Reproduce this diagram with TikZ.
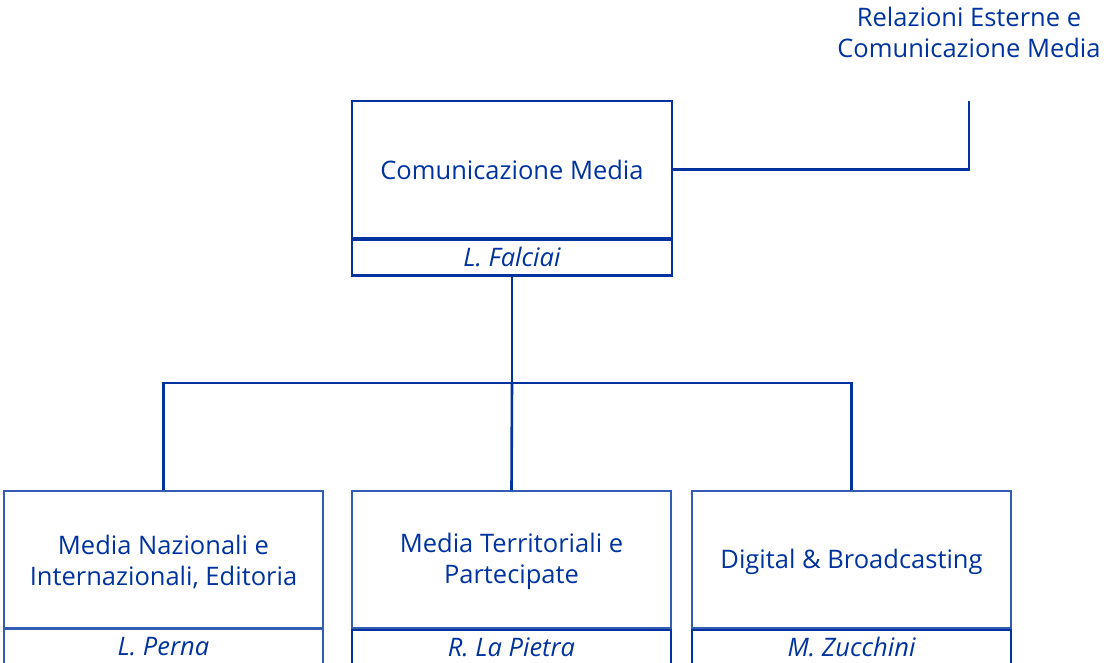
\documentclass[tikz,border=0pt]{standalone}
\usepackage{fontspec}
\setmainfont{Open Sans}
\definecolor{cblue}{RGB}{0,51,160}
\begin{document}
\begin{tikzpicture}[x=1pt,y=-1pt,
  thickln/.style={draw=cblue,line width=2.6pt},
  thinln/.style={draw=cblue!80,line width=1.1pt},
  lbl/.style={text=cblue,font=\fontsize{25.5}{31}\selectfont,align=center},
  nm/.style={text=cblue,font=\fontsize{25.5}{30}\selectfont\itshape},
  conn/.style={draw=cblue,line width=2.6pt}]
\useasboundingbox (0,0) rectangle (1104,663);
\clip (0,0) rectangle (1104,663);
% top-right label
\node[lbl] (rel) at (969,32) {Relazioni Esterne e\\Comunicazione Media};
\coordinate (relpt) at (969,101);
% top box
\node[thickln,minimum width=320pt,minimum height=137pt,inner sep=0pt] (top) at (512,169.5) {};
\node[lbl] at (top.center) {Comunicazione Media};
\node[thickln,minimum width=320pt,minimum height=36pt,inner sep=0pt,anchor=north] (topn) at ([yshift=1pt]top.south) {};
\node[nm] at ([yshift=1pt]topn.center) {L. Falciai};
% bottom boxes
\node[thinln,minimum width=319pt,minimum height=137pt,inner sep=0pt] (b1) at (163.5,559.5) {};
\node[lbl] at ([yshift=-2pt]b1.center) {Media Nazionali e\\Internazionali, Editoria};
\node[thinln,minimum width=319pt,minimum height=38pt,inner sep=0pt,anchor=north] (b1n) at (b1.south) {};
\node[nm] at ([yshift=2pt]b1n.center) {L. Perna};

\node[thinln,minimum width=319pt,minimum height=137pt,inner sep=0pt] (b2) at (511.5,559.5) {};
\node[lbl] at ([yshift=-2pt]b2.center) {Media Territoriali e\\Partecipate};
\node[thickln,minimum width=319pt,minimum height=38pt,inner sep=0pt,anchor=north] (b2n) at (b2.south) {};
\node[nm] at ([yshift=2pt]b2n.center) {R. La Pietra};

\node[thinln,minimum width=319pt,minimum height=137pt,inner sep=0pt] (b3) at (851.5,559.5) {};
\node[lbl] at ([yshift=-2pt]b3.center) {Digital \& Broadcasting};
\node[thickln,minimum width=319pt,minimum height=38pt,inner sep=0pt,anchor=north] (b3n) at (b3.south) {};
\node[nm] at ([yshift=2pt]b3n.center) {M. Zucchini};
% connectors
\draw[conn] (top.east) -| (relpt);
\coordinate (bus) at (512,383);
\draw[conn] (topn.south) -- (bus);
\draw[conn] (b1.north) |- (bus) -| (b3.north);
\draw[conn] (bus) -- (b2.north);
\end{tikzpicture}
\end{document}
